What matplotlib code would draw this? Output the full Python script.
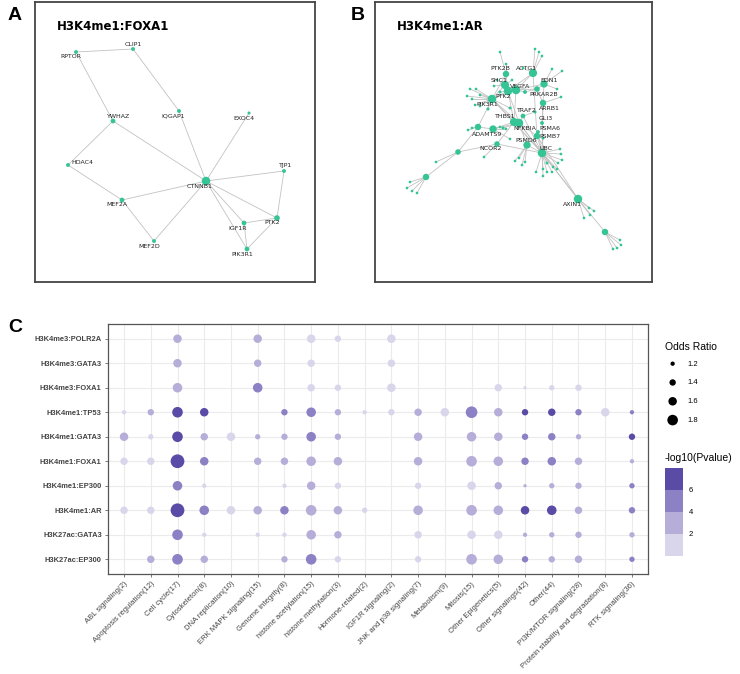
"""Two PPI networks (A, B) and a pathway enrichment dot plot (C)."""

import matplotlib

matplotlib.use("Agg")
import matplotlib.pyplot as plt
import numpy as np
from matplotlib.colors import BoundaryNorm, ListedColormap
from matplotlib.colorbar import ColorbarBase

W, H = 740, 674
NODE_COLOR = "#35c495"
EDGE_COLOR = "#c2c2c2"

# ---------------- panel A: H3K4me1:FOXA1 network (layout in image px) ----------------
A_NODES = {
    "RPTOR": (76, 52), "CLIP1": (133, 49), "IQGAP1": (179, 111), "EXOC4": (249, 113),
    "YWHAZ": (113, 121), "HDAC4": (68, 165), "CTNNB1": (206, 181), "TJP1": (284, 171),
    "MEF2A": (122, 200), "IGF1R": (244, 223), "PTK2": (277, 218), "MEF2D": (154, 241),
    "PIK3R1": (247, 249),
}
A_LABELS = {
    "RPTOR": (71, 57), "CLIP1": (133, 44), "IQGAP1": (173, 116), "EXOC4": (244, 118),
    "YWHAZ": (119, 117), "HDAC4": (82, 162), "CTNNB1": (200, 187), "TJP1": (286, 166),
    "MEF2A": (117, 205), "IGF1R": (238, 229), "PTK2": (272, 223), "MEF2D": (149, 247),
    "PIK3R1": (242, 255),
}
A_EDGES = [
    ("RPTOR", "CLIP1"), ("RPTOR", "YWHAZ"), ("CLIP1", "IQGAP1"), ("IQGAP1", "CTNNB1"),
    ("EXOC4", "CTNNB1"), ("YWHAZ", "CTNNB1"), ("YWHAZ", "HDAC4"), ("HDAC4", "MEF2A"),
    ("MEF2A", "CTNNB1"), ("MEF2A", "MEF2D"), ("MEF2D", "CTNNB1"), ("CTNNB1", "TJP1"),
    ("TJP1", "PTK2"), ("CTNNB1", "PTK2"), ("CTNNB1", "IGF1R"), ("CTNNB1", "PIK3R1"),
    ("IGF1R", "PTK2"), ("IGF1R", "PIK3R1"), ("PTK2", "PIK3R1"),
]

# ---------------- panel B: H3K4me1:AR network ----------------
B_NODES = {
    "PIK3R1": (492, 99), "PTK2": (508, 91), "SHC1": (505, 85), "PTK2B": (506, 74),
    "ACTG1": (533, 73), "EDN1": (544, 84), "VEGFA": (516, 90), "PRKAR2B": (537, 89),
    "ARRB1": (543, 103), "TRAF2": (523, 116), "GLI3": (542, 123), "THBS1": (514, 122),
    "NFKBIA": (519, 123), "PSMA6": (538, 132), "PSMB7": (537, 136), "ADAMTS9": (493, 129),
    "PSMD6": (527, 145), "NCOR2": (497, 144), "UBC": (542, 153), "AXIN1": (578, 199),
    "u1": (478, 127), "u2": (458, 152), "u3": (426, 177), "u4": (605, 232),
    "u5": (525, 92), "u6": (500, 92), "u7": (488, 109), "u8": (510, 108),
    "u9": (535, 112), "u10": (547, 163), "u11": (543, 138), "u12": (503, 128),
}
B_LABELS = {
    "PTK2B": (500, 69), "ACTG1": (527, 69), "EDN1": (549, 80), "SHC1": (499, 80),
    "VEGFA": (520, 86), "PTK2": (503, 96), "PRKAR2B": (544, 94), "PIK3R1": (487, 105),
    "ARRB1": (549, 108), "TRAF2": (527, 111), "GLI3": (546, 118), "THBS1": (505, 117),
    "NFKBIA": (525, 128), "PSMA6": (550, 128), "ADAMTS9": (487, 134), "PSMB7": (550, 136),
    "PSMD6": (526, 140), "UBC": (546, 148), "NCOR2": (491, 149), "AXIN1": (572, 205),
}
B_LEAVES = {
    "PTK2B": [(500, 52), (506, 64)],
    "ACTG1": [(535, 49), (539, 52), (542, 56), (523, 68)],
    "EDN1": [(552, 69), (562, 71), (557, 89)],
    "ARRB1": [(561, 97)],
    "PIK3R1": [(470, 89), (476, 89), (467, 96), (472, 99), (480, 95), (475, 105), (480, 106)],
    "SHC1": [(497, 80), (494, 86), (512, 80)],
    "u1": [(468, 130), (472, 128)],
    "ADAMTS9": [(510, 139), (500, 127), (506, 129)],
    "PSMD6": [(515, 161), (522, 165), (525, 162), (519, 158)],
    "NCOR2": [(484, 157)],
    "u2": [(436, 162)],
    "u3": [(410, 182), (407, 188), (412, 191), (417, 193)],
    "UBC": [(560, 149), (561, 154), (562, 160), (558, 163), (557, 169), (552, 172),
            (547, 172), (543, 176), (543, 169), (536, 172), (553, 167)],
    "AXIN1": [(589, 208), (594, 211), (584, 218), (590, 215)],
    "u4": [(620, 240), (621, 245), (617, 248), (613, 249)],
}
B_EDGES = [
    ("PIK3R1", "PTK2"), ("PIK3R1", "SHC1"), ("PIK3R1", "PTK2B"), ("PIK3R1", "THBS1"),
    ("PIK3R1", "NFKBIA"), ("PIK3R1", "UBC"), ("PIK3R1", "u1"), ("PIK3R1", "u7"),
    ("PIK3R1", "VEGFA"), ("PIK3R1", "u8"), ("PTK2", "SHC1"), ("PTK2", "VEGFA"),
    ("PTK2", "PTK2B"), ("PTK2", "THBS1"), ("PTK2", "u6"), ("PTK2", "ACTG1"),
    ("PTK2", "NFKBIA"), ("SHC1", "PTK2B"), ("SHC1", "VEGFA"), ("VEGFA", "u5"),
    ("VEGFA", "PRKAR2B"), ("VEGFA", "EDN1"), ("VEGFA", "THBS1"), ("VEGFA", "ACTG1"),
    ("ACTG1", "PSMB7"), ("u5", "PRKAR2B"), ("PRKAR2B", "EDN1"), ("PRKAR2B", "ARRB1"),
    ("EDN1", "ARRB1"), ("ARRB1", "UBC"), ("ARRB1", "GLI3"), ("TRAF2", "NFKBIA"),
    ("TRAF2", "UBC"), ("TRAF2", "u9"), ("GLI3", "UBC"), ("PSMA6", "UBC"),
    ("PSMB7", "UBC"), ("PSMA6", "PSMB7"), ("u11", "UBC"), ("THBS1", "NFKBIA"),
    ("NFKBIA", "UBC"), ("THBS1", "UBC"), ("NFKBIA", "PSMB7"), ("NFKBIA", "u12"),
    ("THBS1", "ADAMTS9"), ("NFKBIA", "ADAMTS9"), ("PSMD6", "UBC"), ("PSMD6", "NFKBIA"),
    ("NCOR2", "UBC"), ("NCOR2", "u2"), ("NCOR2", "THBS1"), ("u1", "u2"), ("u2", "u3"),
    ("u1", "ADAMTS9"), ("UBC", "AXIN1"), ("NFKBIA", "AXIN1"), ("PSMB7", "AXIN1"),
    ("AXIN1", "u4"), ("UBC", "u10"),
]

# ---------------- panel C: enrichment dot plot ----------------
GROUPS = [
    "H3K4me3:POLR2A", "H3K4me3:GATA3", "H3K4me3:FOXA1", "H3K4me1:TP53", "H3K4me1:GATA3",
    "H3K4me1:FOXA1", "H3K4me1:EP300", "H3K4me1:AR", "H3K27ac:GATA3", "H3K27ac:EP300",
]
PATHWAYS = [
    "ABL signaling(2)", "Apoptosis regulation(12)", "Cell cycle(17)", "Cytoskeleton(8)",
    "DNA replication(10)", "ERK MAPK signaling(15)", "Genome integrity(8)",
    "histone acetylation(15)", "histone methylation(3)", "Hormone-related(2)",
    "IGF1R signaling(2)", "JNK and p38 signaling(7)", "Metabolism(9)", "Mitosis(15)",
    "Other Epigenetics(5)", "Other signalings(42)", "Other(44)", "PI3K/MTOR signaling(28)",
    "Protein stability and degradation(8)", "RTK signaling(36)",
]
_ = None
ODDS_RATIO = [
    [_, _, 1.6, _, _, 1.6, _, 1.6, 1.4, _, 1.6, _, _, _, _, _, _, _, _, _],
    [_, _, 1.6, _, _, 1.5, _, 1.5, _, _, 1.5, _, _, _, _, _, _, _, _, _],
    [_, _, 1.7, _, _, 1.7, _, 1.5, 1.4, _, 1.6, _, _, _, 1.5, 1.1, 1.3, 1.4, _, _],
    [1.2, 1.4, 1.8, 1.6, _, _, 1.4, 1.7, 1.4, 1.2, 1.4, 1.5, 1.6, 1.9, 1.6, 1.4, 1.5, 1.4, 1.6, 1.2],
    [1.6, 1.3, 1.8, 1.5, 1.6, 1.3, 1.4, 1.7, 1.4, _, _, 1.6, _, 1.7, 1.6, 1.4, 1.5, 1.3, _, 1.4],
    [1.5, 1.5, 2.1, 1.6, _, 1.5, 1.5, 1.7, 1.6, _, _, 1.6, _, 1.8, 1.7, 1.5, 1.6, 1.5, _, 1.2],
    [_, _, 1.7, 1.2, _, _, 1.2, 1.6, 1.4, _, _, 1.4, _, 1.6, 1.5, 1.1, 1.3, 1.4, _, 1.3],
    [1.5, 1.5, 2.1, 1.7, 1.6, 1.6, 1.6, 1.8, 1.6, 1.3, _, 1.7, _, 1.8, 1.7, 1.6, 1.7, 1.5, _, 1.4],
    [_, _, 1.8, 1.2, _, 1.2, 1.2, 1.7, 1.5, _, _, 1.5, _, 1.6, 1.6, 1.2, 1.3, 1.4, _, 1.3],
    [_, 1.5, 1.8, 1.5, _, _, 1.4, 1.8, 1.4, _, _, 1.4, _, 1.8, 1.7, 1.4, 1.4, 1.5, _, 1.3],
]
NEG_LOG10_P = [
    [_, _, 3.0, _, _, 3.0, _, 1.5, 1.5, _, 1.5, _, _, _, _, _, _, _, _, _],
    [_, _, 3.0, _, _, 3.0, _, 1.5, _, _, 1.5, _, _, _, _, _, _, _, _, _],
    [_, _, 3.0, _, _, 5.0, _, 1.5, 1.5, _, 1.5, _, _, _, 1.5, 1.5, 1.5, 1.5, _, _],
    [1.5, 3.0, 7.0, 7.0, _, _, 5.0, 5.0, 3.0, 1.5, 1.5, 3.0, 1.5, 5.0, 3.0, 7.0, 7.0, 5.0, 1.5, 5.0],
    [3.0, 1.5, 7.0, 3.0, 1.5, 3.0, 3.0, 5.0, 3.0, _, _, 3.0, _, 3.0, 3.0, 5.0, 5.0, 3.0, _, 7.0],
    [1.5, 1.5, 7.0, 5.0, _, 3.0, 3.0, 3.0, 3.0, _, _, 3.0, _, 3.0, 3.0, 5.0, 5.0, 3.0, _, 3.0],
    [_, _, 5.0, 1.5, _, _, 1.5, 3.0, 1.5, _, _, 1.5, _, 1.5, 3.0, 3.0, 3.0, 3.0, _, 5.0],
    [1.5, 1.5, 7.0, 5.0, 1.5, 3.0, 5.0, 3.0, 3.0, 1.5, _, 3.0, _, 3.0, 3.0, 7.0, 7.0, 3.0, _, 5.0],
    [_, _, 5.0, 1.5, _, 1.5, 1.5, 3.0, 3.0, _, _, 1.5, _, 1.5, 1.5, 3.0, 3.0, 3.0, _, 3.0],
    [_, 3.0, 5.0, 3.0, _, _, 3.0, 5.0, 1.5, _, _, 1.5, _, 3.0, 3.0, 5.0, 3.0, 3.0, _, 5.0],
]
SIZE_LEGEND = [1.2, 1.4, 1.6, 1.8]
P_BOUNDS = [0, 2, 4, 6, 8]
P_COLORS = ["#d9d5eb", "#b6aed9", "#8c81c4", "#5a4ba7"]
P_TICKS = [2, 4, 6]


def fig_rect(x0, y0, x1, y1):
    return [x0 / W, 1 - y1 / H, (x1 - x0) / W, (y1 - y0) / H]


def px_to_s(d):
    return (d * 0.72) ** 2


def or_to_size(o):
    return px_to_s(4.3 + 10.5 * (o - 1.2))


def draw_network(ax, box, nodes, edges, labels, leaves, title):
    x0, y0, x1, y1 = box
    ax.set_xlim(x0, x1)
    ax.set_ylim(y1, y0)
    ax.set_xticks([])
    ax.set_yticks([])
    for sp in ax.spines.values():
        sp.set_color("#444444")
        sp.set_linewidth(1.3)

    degree = {n: 0 for n in nodes}
    all_edges = list(edges)
    leaf_pts = []
    for hub, pts in leaves.items():
        for p in pts:
            leaf_pts.append(p)
            all_edges.append((hub, p))
    for a, b in all_edges:
        pa = nodes[a]
        pb = nodes[b] if isinstance(b, str) else b
        ax.plot([pa[0], pb[0]], [pa[1], pb[1]], color=EDGE_COLOR, lw=0.6, zorder=1)
        degree[a] += 1
        if isinstance(b, str):
            degree[b] += 1

    names = list(nodes)
    xs = [nodes[n][0] for n in names]
    ys = [nodes[n][1] for n in names]
    sizes = [px_to_s(min(2.2 + 0.85 * degree[n], 8.5)) for n in names]
    ax.scatter(xs, ys, s=sizes, color=NODE_COLOR, edgecolors="none", zorder=2)
    if leaf_pts:
        ax.scatter([p[0] for p in leaf_pts], [p[1] for p in leaf_pts], s=px_to_s(2.7),
                   color=NODE_COLOR, edgecolors="none", zorder=2)
    for name, (lx, ly) in labels.items():
        ax.text(lx, ly, name, fontsize=4.5, color="#222222", ha="center", va="center", zorder=3)
    ax.text(x0 + 22, y0 + 24, title, fontsize=8.5, fontweight="bold", ha="left", va="center")


def main():
    fig = plt.figure(figsize=(W / 100, H / 100), dpi=100)

    ax_a = fig.add_axes(fig_rect(35, 2, 315, 282))
    draw_network(ax_a, (35, 2, 315, 282), A_NODES, A_EDGES, A_LABELS, {}, "H3K4me1:FOXA1")
    ax_b = fig.add_axes(fig_rect(375, 2, 652, 282))
    draw_network(ax_b, (375, 2, 652, 282), B_NODES, B_EDGES, B_LABELS, B_LEAVES, "H3K4me1:AR")

    for letter, (x, y) in {"A": (15, 15), "B": (358, 15), "C": (15, 328)}.items():
        fig.text(x / W, 1 - y / H, letter, fontsize=14, fontweight="bold",
                 family="Liberation Sans", ha="center", va="center")

    # dot plot
    ax = fig.add_axes(fig_rect(108, 324, 648, 574))
    cmap = ListedColormap(P_COLORS)
    norm = BoundaryNorm(P_BOUNDS, cmap.N)
    xs, ys, ss, cs = [], [], [], []
    for i in range(len(GROUPS)):
        for j in range(len(PATHWAYS)):
            o = ODDS_RATIO[i][j]
            p = NEG_LOG10_P[i][j]
            if o is None:
                continue
            xs.append(j)
            ys.append(i)
            ss.append(or_to_size(o))
            cs.append(p)
    ax.scatter(xs, ys, s=ss, c=cs, cmap=cmap, norm=norm, edgecolors="none", zorder=3)
    ax.set_xlim(-0.6, len(PATHWAYS) - 0.4)
    ax.set_ylim(len(GROUPS) - 0.4, -0.6)
    ax.set_xticks(range(len(PATHWAYS)))
    ax.set_xticklabels(PATHWAYS, rotation=45, ha="right", va="top", rotation_mode="anchor",
                       fontsize=5.5, color="#444444", family="Liberation Sans")
    ax.set_yticks(range(len(GROUPS)))
    ax.set_yticklabels(GROUPS, fontsize=5.4, fontweight="bold", color="#444444",
                       family="Liberation Sans")
    ax.tick_params(axis="both", length=2, width=0.6, color="#666666", pad=2.5)
    ax.grid(True, color="#ebebeb", lw=0.8, zorder=0)
    ax.set_axisbelow(True)
    for sp in ax.spines.values():
        sp.set_color("#555555")
        sp.set_linewidth(0.9)

    handles = [ax.scatter([], [], s=or_to_size(v), color="black", edgecolors="none")
               for v in SIZE_LEGEND]
    leg = fig.legend(handles, [f"{v:.1f}" for v in SIZE_LEGEND], title="Odds Ratio",
                     loc="upper left", bbox_to_anchor=(665 / W, 1 - 342 / H), frameon=False,
                     title_fontsize=7.5, labelspacing=1.5, handletextpad=0.9,
                     alignment="left", borderaxespad=0, borderpad=0,
                     prop={"family": "Liberation Sans", "size": 5.5})
    leg.get_title().set_family("Liberation Sans")
    leg._legend_box.sep = 6

    fig.text(665 / W, 1 - 458 / H, "-log10(Pvalue)", fontsize=7.5, family="Liberation Sans",
             ha="left", va="center")
    ax_cb = fig.add_axes(fig_rect(665, 468, 683, 556))
    cb = ColorbarBase(ax_cb, cmap=cmap, norm=norm, boundaries=P_BOUNDS, ticks=P_TICKS)
    cb.outline.set_visible(False)
    ax_cb.minorticks_off()
    ax_cb.tick_params(which="both", length=0, labelsize=5.5, pad=4)
    for t in ax_cb.get_yticklabels():
        t.set_family("Liberation Sans")

    fig.savefig("out.png", dpi=100)


if __name__ == "__main__":
    main()
